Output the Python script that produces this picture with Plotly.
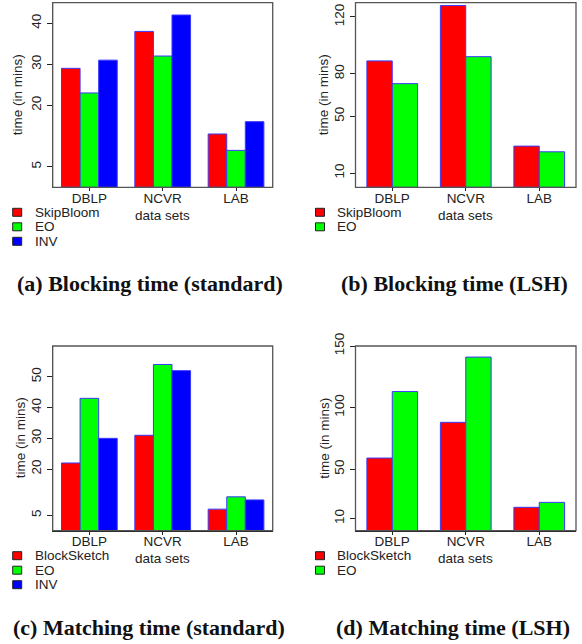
import plotly.graph_objects as go

W, H = 582, 644

datasets = ["DBLP", "NCVR", "LAB"]

# (a) Blocking time (standard)
a_names = ["SkipBloom", "EO", "INV"]
a_skipbloom = [29, 38, 13]
a_eo = [23, 32, 9]
a_inv = [31, 42, 16]

# (b) Blocking time (LSH)
b_names = ["SkipBloom", "EO"]
b_skipbloom = [89, 128, 29]
b_eo = [73, 92, 25]

# (c) Matching time (standard)
c_names = ["BlockSketch", "EO", "INV"]
c_blocksketch = [22, 31, 7]
c_eo = [43, 54, 11]
c_inv = [30, 52, 10]

# (d) Matching time (LSH)
d_names = ["BlockSketch", "EO"]
d_blocksketch = [59, 88, 19]
d_eo = [113, 141, 23]

colors = ["#FF0000", "#00FF00", "#0000FF"]

a_ticks = [5, 20, 30, 40]
b_ticks = [10, 50, 80, 120]
c_ticks = [5, 20, 30, 40, 50]
d_ticks = [10, 50, 100, 150]

captions = ["(a) Blocking time (standard)", "(b) Blocking time (LSH)",
            "(c) Matching time (standard)", "(d) Matching time (LSH)"]

panels = [
    dict(names=a_names, series=[a_skipbloom, a_eo, a_inv], ticks=a_ticks, yr=[0, 45],
         px=(52.7, 272.7), py=(2.7, 187.3), ytitle_x=18.3, cap=(150, 283)),
    dict(names=b_names, series=[b_skipbloom, b_eo], ticks=b_ticks, yr=[0, 130],
         px=(355.5, 576), py=(2.7, 187.3), ytitle_x=324.3, cap=(454, 283)),
    dict(names=c_names, series=[c_blocksketch, c_eo, c_inv], ticks=c_ticks, yr=[0, 60],
         px=(52.7, 272.7), py=(346, 530.7), ytitle_x=20, cap=(149, 627)),
    dict(names=d_names, series=[d_blocksketch, d_eo], ticks=d_ticks, yr=[0, 150],
         px=(355.5, 576), py=(346, 530.7), ytitle_x=324.3, cap=(453, 627)),
]


def fx(x):
    return x / W


def fy(y):
    return 1 - y / H


fig = go.Figure()
shapes = []
annotations = []
font = "Liberation Sans, Arial, sans-serif"
fs = 13.5

for i, p in enumerate(panels):
    k = "" if i == 0 else str(i + 1)
    xa, ya = "x" + k, "y" + k
    n = len(p["series"])
    for j, (nm, vals) in enumerate(zip(p["names"], p["series"])):
        fig.add_trace(go.Bar(
            x=datasets, y=vals, name=nm, xaxis=xa, yaxis=ya, showlegend=False,
            offsetgroup=str(j), width=0.76 / 3 if n == 3 else 0.69 / 2,
            offset=(-0.38 + j * 0.76 / 3) if n == 3 else (-0.345 + j * 0.345),
            marker=dict(color=colors[j], line=dict(color="#3a3aff", width=1)),
            hoverinfo="skip",
        ))
    x0, x1 = p["px"]
    y0, y1 = p["py"]
    fig.layout["xaxis" + k] = dict(
        domain=[fx(x0), fx(x1)], anchor=ya, type="category", automargin=False,
        range=[-0.5, 2.5],
        showline=True, linecolor="#222", linewidth=1, mirror=False,
        ticks="outside", ticklen=3, tickcolor="#222", showgrid=False,
        ticklabelstandoff=-5,
        tickfont=dict(family=font, size=fs, color="#222"), fixedrange=True,
    )
    fig.layout["yaxis" + k] = dict(
        domain=[fy(y1), fy(y0)], anchor=xa, range=p["yr"], automargin=False,
        tickvals=p["ticks"], ticktext=[str(t) for t in p["ticks"]],
        showline=True, linecolor="#222", linewidth=1,
        ticks="outside", ticklen=5, tickcolor="#222", tickangle=-90,
        showgrid=False, zeroline=False,
        tickfont=dict(family=font, size=fs, color="#222"), fixedrange=True,
    )
    # box frame
    shapes.append(dict(type="rect", xref="x" + k + " domain", yref="y" + k + " domain",
                       x0=0, x1=1, y0=0, y1=1, line=dict(color="#555", width=1.3), layer="above"))
    # axis titles
    annotations.append(dict(text="data sets", x=fx((x0 + x1) / 2), y=fy(y1 + 28),
                            xref="paper", yref="paper", showarrow=False,
                            font=dict(family=font, size=fs, color="#222"),
                            xanchor="center", yanchor="middle"))
    annotations.append(dict(text="time (in mins)", x=fx(p["ytitle_x"]), y=fy((y0 + y1) / 2),
                            xref="paper", yref="paper", showarrow=False, textangle=-90,
                            font=dict(family=font, size=fs, color="#222"),
                            xanchor="center", yanchor="middle"))
    # legend (manual, below plot)
    lx = x0 - 40
    for j, nm in enumerate(p["names"]):
        cy = y1 + 25 + 14.5 * j
        shapes.append(dict(type="rect", xref="paper", yref="paper",
                           x0=fx(lx), x1=fx(lx + 9), y0=fy(cy + 4), y1=fy(cy - 4),
                           fillcolor=colors[j], line=dict(color="#222", width=1)))
        annotations.append(dict(text=nm, x=fx(lx + 20), y=fy(cy), xref="paper", yref="paper",
                                showarrow=False, xanchor="left", yanchor="middle",
                                font=dict(family=font, size=fs, color="#222")))
    # caption
    annotations.append(dict(text="<b>" + captions[i] + "</b>", x=fx(p["cap"][0]), y=fy(p["cap"][1]),
                            xref="paper", yref="paper", showarrow=False,
                            xanchor="center", yanchor="middle",
                            font=dict(family="Liberation Serif, Times New Roman, serif", size=22, color="#111")))

fig.update_layout(
    width=W, height=H, margin=dict(l=0, r=0, t=0, b=0, autoexpand=False),
    paper_bgcolor="white", plot_bgcolor="white",
    barmode="group", hovermode=False,
    shapes=shapes, annotations=annotations, showlegend=False,
)

fig.write_html("out.html", config={"displayModeBar": False, "staticPlot": True},
               post_script="document.body.style.margin='0';document.body.style.overflow='hidden';")
